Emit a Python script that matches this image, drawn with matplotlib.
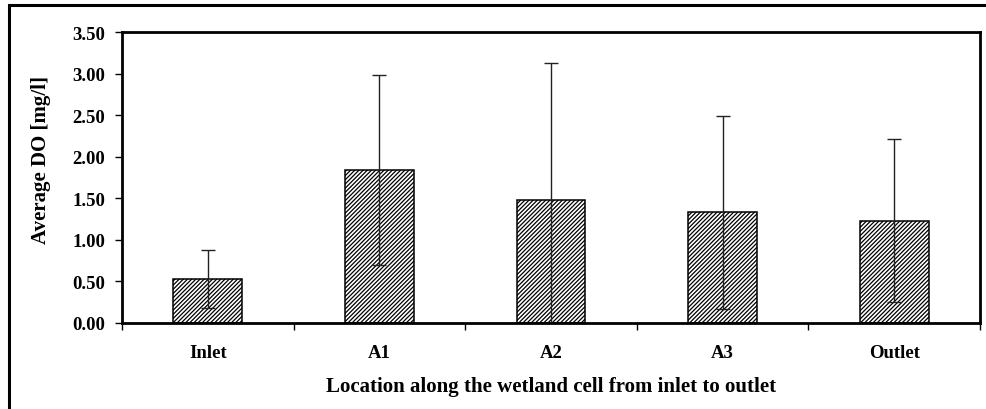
import matplotlib
matplotlib.use("Agg")
import matplotlib.pyplot as plt
from matplotlib.patches import Rectangle
from matplotlib.ticker import FixedLocator, FormatStrFormatter
import numpy as np

# Average dissolved oxygen along the wetland cell
locations = ["Inlet", "A1", "A2", "A3", "Outlet"]
avg_do = [0.53, 1.84, 1.48, 1.33, 1.23]
std_do = [0.35, 1.14, 1.65, 1.16, 0.98]

plt.rcParams["font.family"] = ["Liberation Serif", "DejaVu Serif"]
plt.rcParams["font.weight"] = "bold"
plt.rcParams["hatch.linewidth"] = 0.9
plt.rcParams["hatch.color"] = "#3a3a3a"

fig = plt.figure(figsize=(9.87, 4.10), dpi=100)
ax = fig.add_axes([122 / 987, 86 / 410, 858 / 987, 291 / 410])

x = np.arange(len(locations))
ax.bar(x, avg_do, width=0.4, color="white", edgecolor="black",
       linewidth=1.1, hatch="////////", zorder=2)
ax.errorbar(x, avg_do, yerr=std_do, fmt="none", ecolor="#222222",
            elinewidth=1.0, capsize=5, capthick=1.0, zorder=3)

ax.set_xlim(-0.5, len(locations) - 0.5)
ax.set_ylim(0, 3.5)
ax.set_yticks(np.arange(0, 3.51, 0.5))
ax.yaxis.set_major_formatter(FormatStrFormatter("%.2f"))

# category boundaries carry the ticks, names sit between them
ax.xaxis.set_major_locator(FixedLocator(np.arange(-0.5, len(locations), 1.0)))
ax.xaxis.set_major_formatter(plt.NullFormatter())
ax.xaxis.set_minor_locator(FixedLocator(x))
ax.set_xticklabels(locations, minor=True)
ax.tick_params(axis="x", which="minor", length=0, pad=15, labelsize=13.5)
ax.tick_params(axis="x", which="major", length=5, width=1.0, direction="out")
ax.tick_params(axis="y", length=5, width=1.0, direction="out", labelsize=13.5, pad=7)
for lbl in ax.get_xticklabels(minor=True) + ax.get_yticklabels():
    lbl.set_fontweight("bold")

for side in ["left", "bottom", "top", "right"]:
    ax.spines[side].set_linewidth(2.0)

ax.set_ylabel("Average DO [mg/l]", fontsize=15, fontweight="bold")
ax.yaxis.set_label_coords(-0.083, 0.565)
ax.set_xlabel("Location along the wetland cell from inlet to outlet",
              fontsize=15, fontweight="bold", labelpad=11)

# frame around the whole chart
fig.patches.append(Rectangle((9 / 987, -0.1), 1.2, (404 / 410) + 0.1,
                             transform=fig.transFigure, fill=False,
                             edgecolor="black", linewidth=2.2))

fig.savefig("out.png", dpi=100)
